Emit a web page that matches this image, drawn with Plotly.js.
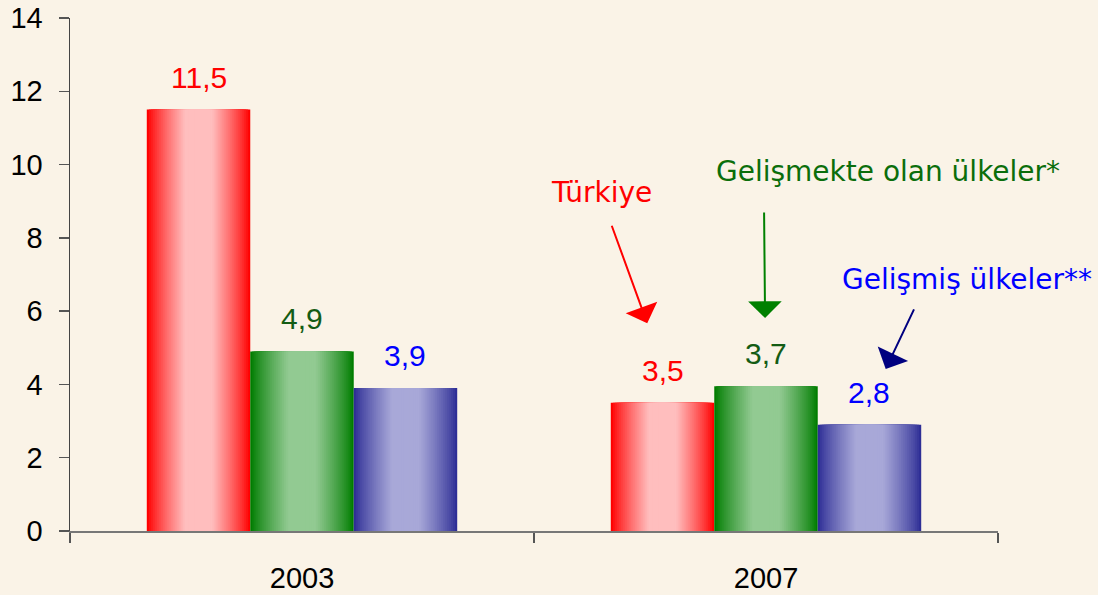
<!DOCTYPE html>
<html>
<head>
<meta charset="utf-8">
<script src="https://cdn.plot.ly/plotly-3.0.1.min.js"></script>
<style>
  html, body { margin: 0; padding: 0; background: #FAF3E7; }
  #chart { width: 1098px; height: 595px; }
</style>
</head>
<body>
<div id="chart"></div>
<script>
// ---- Data ----
const years = ['2003', '2007'];
const seriesNames = ['Türkiye', 'Gelişmekte olan ülkeler*', 'Gelişmiş ülkeler**'];
const turkiyeValues = [11.5, 3.5];
const gelismekteValues = [4.9, 3.95];
const gelismisValues = [3.9, 2.9];
const turkiyeLabels = ['11,5', '3,5'];
const gelismekteLabels = ['4,9', '3,7'];
const gelismisLabels = ['3,9', '2,8'];

// ---- Styling ----
const seriesValues = [turkiyeValues, gelismekteValues, gelismisValues];
const seriesLabels = [turkiyeLabels, gelismekteLabels, gelismisLabels];
const edgeColors = [[255, 0, 0], [0, 125, 0], [46, 46, 150]];
const centerColors = [[255, 190, 190], [146, 202, 146], [168, 168, 216]];
const labelColors = ['#FF0000', '#145C14', '#0000FF'];
const BAR_W = 0.223;
const LAYERS = 26;

function mix(a, b, t) {
  return 'rgb(' + a.map((v, i) => Math.round(v + (b[i] - v) * t)).join(',') + ')';
}

const traces = [];
seriesValues.forEach((vals, s) => {
  const center = (s - 1) * BAR_W;
  for (let k = 0; k < LAYERS; k++) {
    const wf = 1 - k / LAYERS;
    const wl = BAR_W * wf;
    const d = (1 - wf) / 2;
    const t = Math.pow(Math.min(1, d / 0.36), 0.85);
    traces.push({
      type: 'bar',
      x: years,
      y: vals,
      width: wl,
      offset: center - wl / 2,
      name: seriesNames[s],
      showlegend: false,
      hoverinfo: k === 0 ? 'y+name' : 'skip',
      marker: { color: mix(edgeColors[s], centerColors[s], t), line: { width: 0 } }
    });
  }
});

const annotations = [];
seriesValues.forEach((vals, s) => {
  const center = (s - 1) * BAR_W;
  vals.forEach((v, i) => {
    annotations.push({
      x: i + center, y: v, xref: 'x', yref: 'y',
      text: seriesLabels[s][i], showarrow: false,
      xanchor: 'center', yanchor: 'bottom', yshift: 14,
      font: { family: 'Liberation Sans, Arial, sans-serif', size: 30, color: labelColors[s] }
    });
  });
});

const calloutFont = 'DejaVu Sans, Verdana, sans-serif';
annotations.push(
  { xref: 'paper', yref: 'paper', x: 0.573, y: 0.659, xanchor: 'center', yanchor: 'middle',
    text: seriesNames[0], showarrow: false,
    font: { family: calloutFont, size: 28, color: '#FF0000' } },
  { xref: 'paper', yref: 'paper', x: 0.881, y: 0.700, xanchor: 'center', yanchor: 'middle',
    text: seriesNames[1], showarrow: false,
    font: { family: calloutFont, size: 28, color: '#0B6E0B' } },
  { xref: 'paper', yref: 'paper', x: 0.967, y: 0.491, xanchor: 'center', yanchor: 'middle',
    text: seriesNames[2], showarrow: false,
    font: { family: calloutFont, size: 28, color: '#0000FF' } }
);
annotations.push(
  { xref: 'paper', yref: 'paper', x: 0.622, y: 0.405, ax: -36, ay: -99, text: '', showarrow: true,
    arrowhead: 1, arrowsize: 2.8, arrowwidth: 2, arrowcolor: '#FF0000', standoff: 0 },
  { xref: 'paper', yref: 'paper', x: 0.749, y: 0.415, ax: -1, ay: -107, text: '', showarrow: true,
    arrowhead: 1, arrowsize: 2.8, arrowwidth: 2, arrowcolor: '#008000', standoff: 0 },
  { xref: 'paper', yref: 'paper', x: 0.879, y: 0.316, ax: 29, ay: -61, text: '', showarrow: true,
    arrowhead: 1, arrowsize: 2.8, arrowwidth: 2, arrowcolor: '#000080', standoff: 0 }
);

const layout = {
  width: 1098, height: 595,
  margin: { l: 70, r: 100, t: 18, b: 64 },
  paper_bgcolor: '#FAF3E7',
  plot_bgcolor: '#FAF3E7',
  barmode: 'overlay',
  showlegend: false,
  font: { family: 'Liberation Sans, Arial, sans-serif', color: '#000' },
  xaxis: {
    type: 'category', range: [-0.5, 1.5],
    tickson: 'boundaries', ticks: 'outside', ticklen: 10, tickwidth: 1.5, tickcolor: '#555',
    showline: true, linecolor: '#777', linewidth: 2,
    showgrid: false, zeroline: false,
    ticklabelstandoff: 20,
    tickfont: { size: 29, color: '#000' }
  },
  yaxis: {
    range: [0, 14], dtick: 2, tick0: 0,
    ticks: 'outside', ticklen: 10, tickwidth: 1.5, tickcolor: '#555',
    showline: true, linecolor: '#444', linewidth: 1.5,
    showgrid: false, zeroline: false,
    ticklabelstandoff: 10,
    tickfont: { size: 29, color: '#000' }
  },
  annotations: annotations
};

Plotly.newPlot('chart', traces, layout, { displayModeBar: false, staticPlot: true });
</script>
</body>
</html>
